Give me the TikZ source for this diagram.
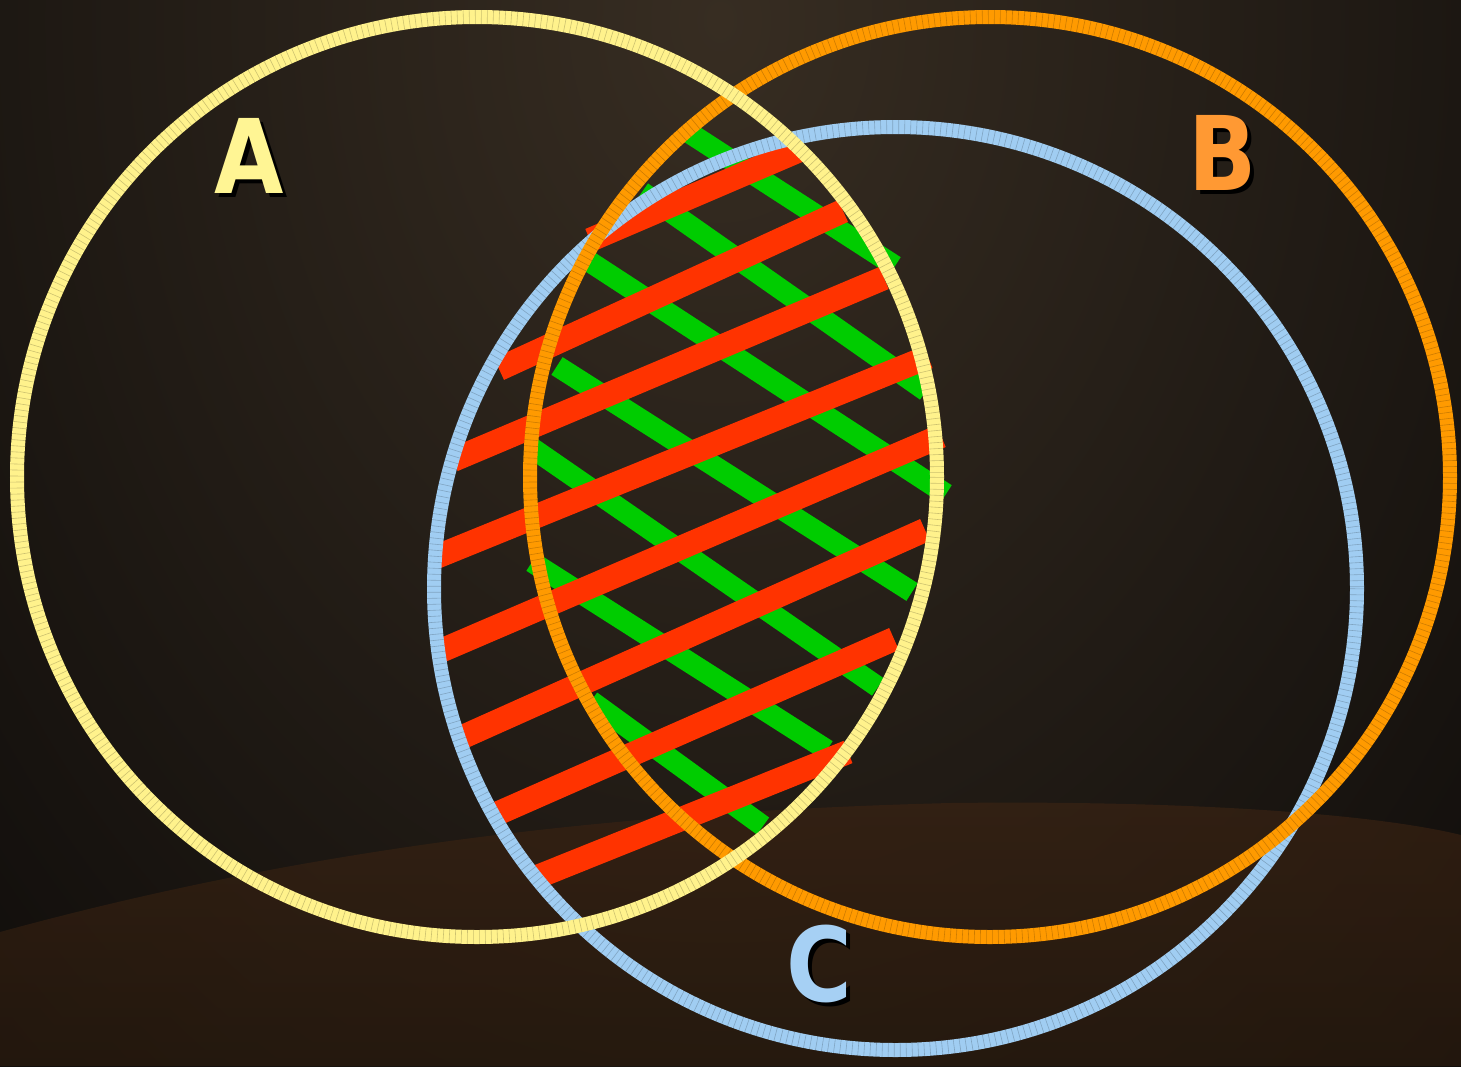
\documentclass[tikz,border=0pt]{standalone}
\usepackage{fontspec}
\newfontfamily\lblfont{DejaVu Sans}[FakeStretch=0.87]
\definecolor{bgbase}{HTML}{060505}
\definecolor{bglight}{HTML}{372D22}
\definecolor{floortop}{HTML}{3A2313}
\definecolor{floorbot}{HTML}{2A1B0E}
\definecolor{ringA}{HTML}{FFF28C}
\definecolor{ringB}{HTML}{FF9A00}
\definecolor{ringC}{HTML}{A0CDF2}
\definecolor{lblA}{HTML}{FFF594}
\definecolor{lblB}{HTML}{FF9933}
\definecolor{lblC}{HTML}{A6D0F4}
\definecolor{sgreen}{HTML}{00CC00}
\definecolor{sred}{HTML}{FF3300}
\newcommand\shadowed[2]{\makebox[0pt][l]{\hspace{4pt}\raisebox{-4pt}{\color{black}#2}}{\color{#1}#2}}
\begin{document}
\begin{tikzpicture}[x=1pt,y=-1pt,
  ring/.style={line width=14pt},
  ticks/.style={line width=14pt, draw=black, opacity=0.2, dash pattern=on 0.6pt off 5.4pt},
  gstripe/.style={draw=sgreen, line width=21pt},
  rstripe/.style={draw=sred, line width=24pt},
  lbl/.style={font=\lblfont\bfseries\fontsize{103}{110}\selectfont, anchor=base west, inner sep=0pt}]
\useasboundingbox (0,0) rectangle (1461,1066);
% background
\fill[bgbase] (0,0) rectangle (1461,1066);
\begin{scope}
\clip (0,0) rectangle (1461,1066);
\shade[inner color=bglight, outer color=bgbase] (720,20) ellipse [x radius=1350, y radius=1800];
\shade[top color=floortop, bottom color=floorbot, opacity=0.7]
  (0,932) .. controls (300,850) and (600,812) .. (950,803)
  .. controls (1200,800) and (1380,815) .. (1461,835)
  -- (1461,1066) -- (0,1066) -- cycle;
\end{scope}
% green stripes
\draw[gstripe] (688,132) -- (895,266);
\draw[gstripe] (642,192) -- (926,391);
\draw[gstripe] (587,260) -- (946,494);
\draw[gstripe] (557,366) -- (912,592);
\draw[gstripe] (532,448) -- (878,687);
\draw[gstripe] (532,562) -- (827,750);
\draw[gstripe] (591,701) -- (763,826);
% red stripes
\draw[rstripe] (590,240) -- (800,150);
\draw[rstripe] (499,369) -- (843,211);
\draw[rstripe] (453,460) -- (884,278);
\draw[rstripe] (436,557) -- (928,357);
\draw[rstripe] (438,652) -- (941,436);
\draw[rstripe] (458,739) -- (925,530);
\draw[rstripe] (494,815) -- (894,639);
\draw[rstripe] (537,877) -- (848,752);
% rings
\draw[ring, draw=ringC] (895.5,588.5) circle[radius=461.5];
\draw[ticks] (895.5,588.5) circle[radius=461.5];
\draw[ring, draw=ringB] (990,477) circle[radius=460];
\draw[ticks] (990,477) circle[radius=460];
\draw[ring, draw=ringA] (477,477) circle[radius=460];
\draw[ticks] (477,477) circle[radius=460];
% labels
\node[lbl] (A) at (214,193) {\shadowed{lblA}{A}};
\node[lbl] (B) at (1188,190) {\shadowed{lblB}{B}};
\node[lbl] (C) at (786,1001) {\shadowed{lblC}{C}};
\end{tikzpicture}
\end{document}
